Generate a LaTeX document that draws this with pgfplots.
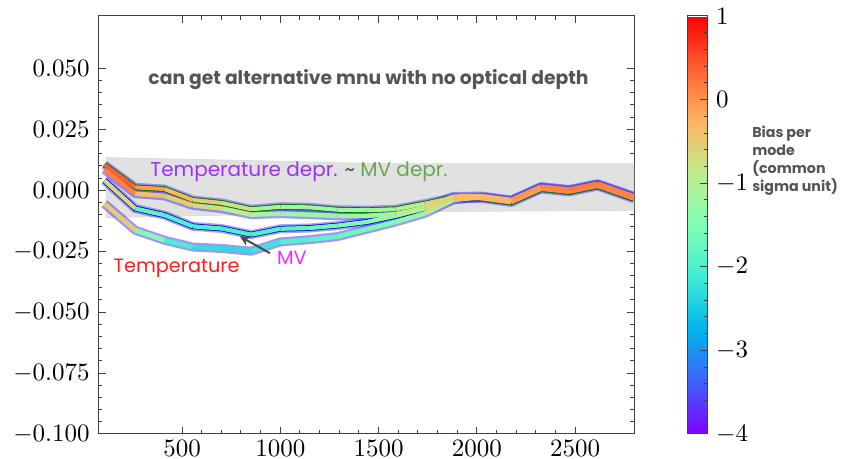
\documentclass[border=0pt]{standalone}
\usepackage{pgfplots}
\usepackage{pgfplotstable}
\pgfplotsset{compat=1.18}
\usepackage{fontspec}
\newfontfamily\qs{Poppins}
\usetikzlibrary{arrows.meta}

\definecolor{tdepr}{RGB}{155,48,255}
\definecolor{mvgreen}{RGB}{106,168,79}
\definecolor{tred}{RGB}{255,30,30}
\definecolor{mvmag}{RGB}{255,40,255}
\definecolor{lbl}{RGB}{85,85,85}
\definecolor{halo}{RGB}{60,50,245}
\definecolor{bandgray}{RGB}{225,225,225}

\pgfplotsset{
 colormap={mplrainbow}{rgb=(0.5,0,1) rgb=(0.25,0.383,0.981) rgb=(0,0.707,0.924) rgb=(0.25,0.924,0.831) rgb=(0.5,1,0.707) rgb=(0.75,0.924,0.556) rgb=(1,0.707,0.383) rgb=(1,0.383,0.195) rgb=(1,0,0)}
}

\pgfplotstableread{
x a am b bm c cm d dm
105 0.0105 0.8 0.0085 0.6 0.0040 0.5 -0.0055 0.0
262 0.0012 0.0 -0.0014 -0.3 -0.0075 -1.8 -0.0164 -1.0
410 0.0005 -0.1 -0.0023 -0.4 -0.0102 -1.9 -0.0205 -1.8
555 -0.0040 -0.4 -0.0062 -0.6 -0.0148 -2.0 -0.0233 -2.2
703 -0.0052 -0.6 -0.0075 -0.8 -0.0157 -2.0 -0.0239 -2.3
852 -0.0078 -0.9 -0.0100 -1.0 -0.0182 -2.0 -0.0250 -2.3
1000 -0.0068 -1.1 -0.0096 -1.2 -0.0158 -1.9 -0.0212 -2.0
1146 -0.0070 -1.2 -0.0100 -1.2 -0.0155 -1.8 -0.0203 -1.9
1292 -0.0080 -1.2 -0.0105 -1.2 -0.0145 -1.6 -0.0190 -1.8
1440 -0.0082 -1.2 -0.0105 -1.2 -0.0130 -1.5 -0.0160 -1.6
1587 -0.0078 -1.1 -0.0098 -1.1 -0.0105 -1.3 -0.0130 -1.5
1735 -0.0055 -0.8 -0.0072 -0.8 -0.0075 -1.0 -0.0095 -1.2
1880 -0.0030 -0.4 -0.0026 -0.4 -0.0036 -0.5 -0.0040 -0.6
2027 -0.0034 -0.3 -0.0024 -0.3 -0.0030 -0.3 -0.0028 -0.3
2175 -0.0050 -0.2 -0.0040 -0.2 -0.0045 -0.2 -0.0043 -0.2
2327 0.0005 0.1 0.0015 0.2 0.0010 0.1 0.0012 0.1
2470 -0.0007 0.1 0.0003 0.1 -0.0002 0.1 0.0000 0.1
2615 0.0017 0.2 0.0027 0.3 0.0022 0.2 0.0024 0.2
2800 -0.0035 0.0 -0.0025 0.0 -0.0030 0.0 -0.0028 0.0
}\curves

\pgfplotstableread{
x y
115 0.0134
950 0.0120
1500 0.0109
2800 0.0109
2800 -0.0082
1500 -0.0089
950 -0.0098
115 -0.0112
}\band

\begin{document}
\begin{tikzpicture}
\begin{axis}[
  width=214.2pt, height=167.2pt, scale only axis,
  xmin=75, xmax=2800, ymin=-0.1, ymax=0.0715,
  xtick={500,1000,1500,2000,2500}, minor x tick num=4,
  ytick={-0.1,-0.075,-0.05,-0.025,0,0.025,0.05}, minor y tick num=4,
  scaled y ticks=false,
  xticklabel style={/pgf/number format/1000 sep={}, yshift=1pt},
  yticklabel style={/pgf/number format/.cd, fixed, fixed zerofill, precision=3},
  tick align=inside, major tick length=2.8pt, minor tick length=1.5pt,
  axis line style={black!75}, every tick/.style={black!75},
  colormap name=mplrainbow, point meta min=-4, point meta max=1,
  colorbar,
  colorbar style={
    at={(parent axis.north east)}, anchor=north west, xshift=12.8pt,
    width=8pt,
    ytick={-4,-3,-2,-1,0,1}, minor y tick num=4,
    ytick pos=right,
    tick align=inside, major tick length=2.8pt, minor tick length=1.5pt,
    axis line style={black!75}, every tick/.style={black!75},
  },
]
% band
\addplot[draw=black!14, fill=bandgray, line width=0.3pt] table[x=x,y=y]{\band} -- cycle;
% halos and outlines
\addplot[halo, opacity=0.45, line width=3.6pt, line join=round] table[x=x,y=a]{\curves};
\addplot[halo, opacity=0.45, line width=3.6pt, line join=round] table[x=x,y=c]{\curves};
\addplot[halo, opacity=0.5, line width=3.6pt, line join=round] table[x=x,y=b]{\curves};
\addplot[halo, opacity=0.5, line width=3.6pt, line join=round] table[x=x,y=d]{\curves};
\addplot[green!45!black, line width=2.3pt, line join=round] table[x=x,y=a]{\curves};
\addplot[blue!75!black, line width=2.3pt, line join=round] table[x=x,y=c]{\curves};
% coloured curves
\addplot[mesh, point meta=explicit, line width=1.8pt, line join=round] table[x=x,y=d,meta=dm]{\curves};
\addplot[mesh, point meta=explicit, line width=1.7pt, line join=round] table[x=x,y=c,meta=cm]{\curves};
\addplot[mesh, point meta=explicit, line width=1.8pt, line join=round] table[x=x,y=b,meta=bm]{\curves};
\addplot[mesh, point meta=explicit, line width=1.6pt, line join=round] table[x=x,y=a,meta=am]{\curves};
% annotations
\node[anchor=base, inner sep=0pt, text=lbl, font=\qs\bfseries\fontsize{7.5}{8}\selectfont] at (axis cs:1449,0.0434) {can get alternative mnu with no optical depth};
\node[anchor=base west, inner sep=0pt, font=\qs\fontsize{8}{9}\selectfont] at (axis cs:337,0.00545) {\textcolor{tdepr}{Temperature depr.} \textcolor{black!70}{\textasciitilde} \textcolor{mvgreen}{MV depr.}};
\node[anchor=base west, inner sep=0pt, text=tred, font=\qs\fontsize{7.7}{9}\selectfont] at (axis cs:150,-0.0339) {Temperature};
\node[anchor=base west, inner sep=0pt, text=mvmag, font=\qs\fontsize{7.7}{9}\selectfont] at (axis cs:981,-0.0305) {MV};
\draw[-{Stealth[length=4pt,width=4pt]}, black!70, line width=0.8pt] (axis cs:947,-0.0258) -- (axis cs:794,-0.0189);
\end{axis}
\node[anchor=north west, inner sep=0pt, align=left, text=lbl, font=\qs\bfseries\fontsize{5.7}{7.3}\selectfont] at (261.3pt,123.5pt) {Bias per\\mode\\(common\\sigma unit)};
\pgfresetboundingbox
\path[use as bounding box] (-39.4pt,-10pt) rectangle (297.8pt,173.6pt);
\end{tikzpicture}
\end{document}
